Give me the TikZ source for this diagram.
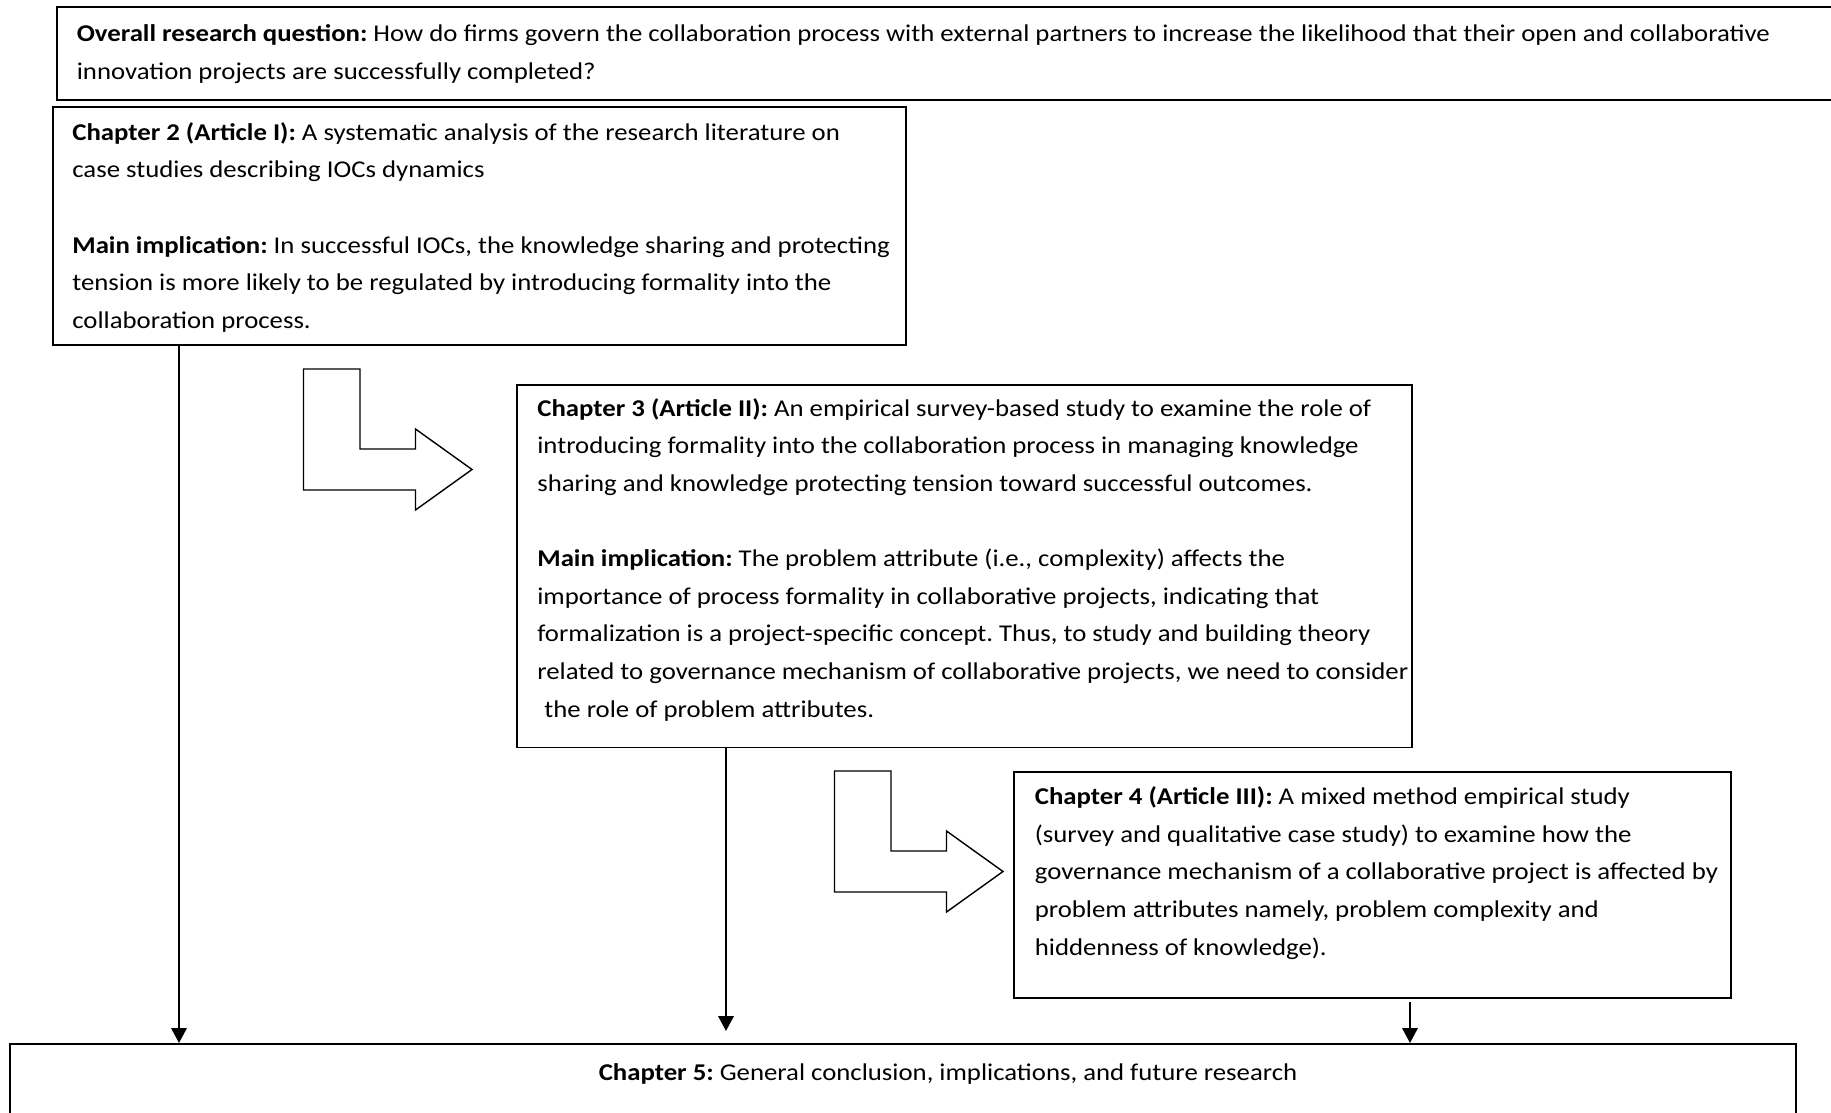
\documentclass[tikz,border=0pt]{standalone}
\usepackage{fontspec}
\setmainfont{Carlito}[FakeStretch=1.112]
\usepackage{tikz}
\usetikzlibrary{arrows.meta,positioning,calc}
\newcommand{\boxfont}{\fontsize{13.7pt}{21.4pt}\selectfont}
\frenchspacing

\begin{document}
\begin{tikzpicture}[
    chapbox/.style={draw,line width=1.1pt,anchor=north west,inner sep=0pt},
    chaptext/.style={anchor=base west,align=left,inner sep=0pt,font=\boxfont},
    link/.style={-{Triangle[width=0.31cm,length=0.3cm]},line width=1.1pt},
    bendarrow/.style={draw,line width=0.8pt,fill=white}
  ]
    \useasboundingbox (0,0) rectangle (36.62,-22.26);
    % boxes
    \node[chapbox,minimum width=35.78cm,minimum height=1.86cm] (rq) at (1.12,-0.12) {};
    \node[chapbox,minimum width=17.06cm,minimum height=4.76cm] (ch2) at (1.04,-2.12) {};
    \node[chapbox,minimum width=17.9cm,minimum height=7.25cm] (ch3) at (10.32,-7.68) {};
    \node[chapbox,minimum width=14.34cm,minimum height=4.52cm] (ch4) at (20.26,-15.42) {};
    \node[chapbox,minimum width=35.72cm,minimum height=1.9cm] (ch5) at (0.18,-20.86) {};
    % texts (placed at the baseline of their last line)
    \node[chaptext] (rqtext) at (1.53,-1.586)
      {\textbf{Overall research question:} How do firms govern the collaboration process with external partners to increase the likelihood that their open and collaborative\\
       innovation projects are successfully completed?};
    \node[chaptext] (ch2text) at (1.44,-6.566)
      {\textbf{Chapter 2 (Article I):} A systematic analysis of the research literature on\\
       case studies describing IOCs dynamics\\[21.4pt]
       \textbf{Main implication:} In successful IOCs, the knowledge sharing and protecting\\
       tension is more likely to be regulated by introducing formality into the\\
       collaboration process.};
    \node[chaptext] (ch3text) at (10.74,-14.34)
      {\textbf{Chapter 3 (Article II):} An empirical survey-based study to examine the role of\\
       introducing formality into the collaboration process in managing knowledge\\
       sharing and knowledge protecting tension toward successful outcomes.\\[21.4pt]
       \textbf{Main implication:} The problem attribute (i.e., complexity) affects the\\
       importance of process formality in collaborative projects, indicating that\\
       formalization is a project-specific concept. Thus, to study and building theory\\
       related to governance mechanism of collaborative projects, we need to consider\\
       \hspace*{0.14cm}the role of problem attributes.};
    \node[chaptext] (ch4text) at (20.69,-19.1)
      {\textbf{Chapter 4 (Article III):} A mixed method empirical study\\
       (survey and qualitative case study) to examine how the\\
       governance mechanism of a collaborative project is affected by\\
       problem attributes namely, problem complexity and\\
       hiddenness of knowledge).};
    \node[chaptext,anchor=base] (ch5text) at (18.96,-21.6)
      {\textbf{Chapter 5:} General conclusion, implications, and future research};
    % bent arrows
    \foreach \dx/\dy in {0/0,10.62/-8.04}
      \draw[bendarrow,shift={(\dx,\dy)}] (6.07,-7.38) -- (7.2,-7.38) -- (7.2,-8.98)
        -- (8.31,-8.98) -- (8.31,-8.58) -- (9.44,-9.39) -- (8.31,-10.2)
        -- (8.31,-9.8) -- (6.07,-9.8) -- cycle;
    % links to chapter 5
    \coordinate (d2) at ($(ch2.south west)+(2.54,0)$);
    \coordinate (d3) at ($(ch3.south west)+(4.2,0)$);
    \coordinate (d4) at ($(ch4.south west)+(7.94,-0.06)$);
    \draw[link] (d2) -- (d2 |- ch5.north);
    \draw[link] (d3) -- ($(d3 |- ch5.north)+(0,0.24)$);
    \draw[link] (d4) -- (d4 |- ch5.north);
\end{tikzpicture}
\end{document}
